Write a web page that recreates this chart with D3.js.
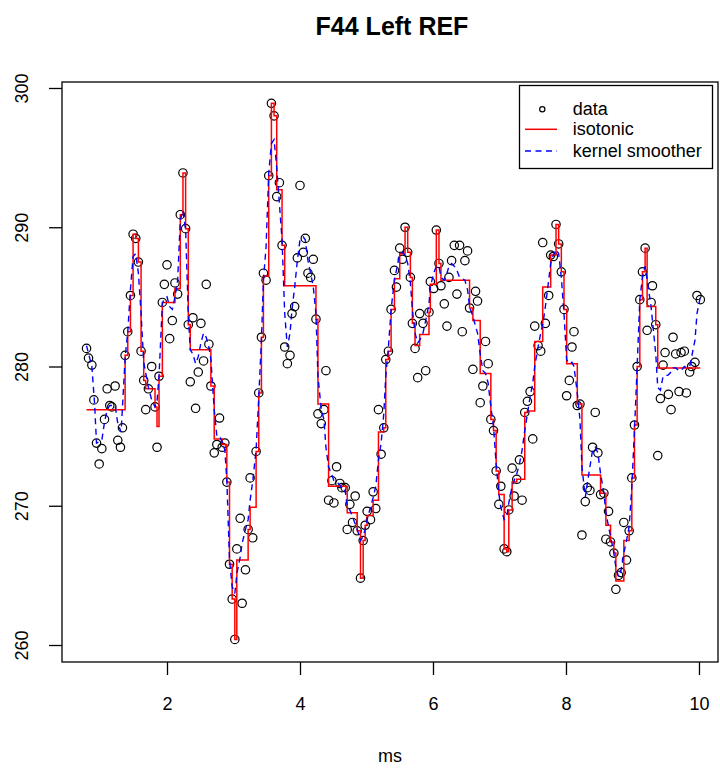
<!DOCTYPE html>
<html lang="en">
<head>
<meta charset="UTF-8">
<title>F44 Left REF</title>
<style>
  body { margin: 0; background: #fff; }
  svg { display: block; font-family: "Liberation Sans", Arial, Helvetica, sans-serif; }
</style>
</head>
<body>
<svg id="chart" width="720" height="768"></svg>
<script src="https://d3js.org/d3.v7.min.js"></script>
<script>
// sample times (ms)
var timeMs = [
  0.79, 0.82, 0.87, 0.90, 0.94, 0.98, 1.02, 1.06, 1.10, 1.14,
  1.17, 1.22, 1.26, 1.30, 1.33, 1.37, 1.41, 1.45, 1.49, 1.53,
  1.57, 1.61, 1.65, 1.68, 1.72, 1.77, 1.82, 1.85, 1.88, 1.93,
  1.96, 2.00, 2.04, 2.08, 2.12, 2.16, 2.20, 2.24, 2.28, 2.32,
  2.35, 2.39, 2.43, 2.47, 2.51, 2.55, 2.59, 2.63, 2.66, 2.71,
  2.75, 2.79, 2.83, 2.87, 2.90, 2.94, 2.98, 3.02, 3.05, 3.10,
  3.13, 3.18, 3.22, 3.25, 3.29, 3.34, 3.38, 3.42, 3.45, 3.49,
  3.53, 3.57, 3.61, 3.65, 3.69, 3.73, 3.77, 3.81, 3.85, 3.88,
  3.92, 3.96, 4.00, 4.05, 4.08, 4.12, 4.16, 4.20, 4.24, 4.27,
  4.32, 4.36, 4.39, 4.43, 4.48, 4.51, 4.55, 4.60, 4.63, 4.68,
  4.71, 4.75, 4.79, 4.83, 4.86, 4.91, 4.95, 4.98, 5.01, 5.06,
  5.10, 5.14, 5.18, 5.22, 5.26, 5.29, 5.33, 5.37, 5.42, 5.45,
  5.50, 5.54, 5.58, 5.62, 5.66, 5.69, 5.73, 5.77, 5.80, 5.85,
  5.89, 5.94, 5.96, 6.01, 6.05, 6.09, 6.12, 6.17, 6.21, 6.24,
  6.28, 6.32, 6.36, 6.40, 6.44, 6.48, 6.52, 6.55, 6.60, 6.64,
  6.67, 6.71, 6.75, 6.79, 6.83, 6.87, 6.91, 6.95, 6.99, 7.02,
  7.07, 7.11, 7.14, 7.19, 7.22, 7.26, 7.30, 7.34, 7.38, 7.42,
  7.46, 7.50, 7.53, 7.58, 7.62, 7.65, 7.69, 7.74, 7.77, 7.81,
  7.85, 7.89, 7.93, 7.97, 8.01, 8.05, 8.09, 8.12, 8.17, 8.21,
  8.24, 8.29, 8.32, 8.36, 8.40, 8.44, 8.48, 8.52, 8.57, 8.60,
  8.64, 8.67, 8.72, 8.75, 8.79, 8.83, 8.87, 8.91, 8.95, 8.99,
  9.03, 9.07, 9.11, 9.15, 9.19, 9.22, 9.28, 9.30, 9.35, 9.38,
  9.42, 9.46, 9.49, 9.54, 9.58, 9.61, 9.65, 9.70, 9.73, 9.78,
  9.81, 9.86, 9.89, 9.94, 9.97, 10.02
];

// observed values
var values = [
  281.3, 280.6, 280.1, 277.6, 274.5, 273.0, 274.1, 276.2, 278.4, 277.2,
  277.1, 278.6, 274.7, 274.2, 275.6, 280.8, 282.5, 285.1, 289.5, 289.2,
  287.5, 281.1, 279.0, 276.9, 278.4, 280.0, 277.1, 274.2, 279.3, 284.6,
  285.9, 287.3, 282.0, 283.3, 286.0, 285.2, 290.9, 293.9, 289.9, 283.0,
  278.9, 283.5, 277.0, 279.6, 283.1, 280.4, 285.9, 281.6, 278.6, 273.8,
  274.4, 276.3, 274.2, 274.5, 271.7, 265.8, 263.3, 260.4, 266.9, 269.1,
  263.0, 265.4, 268.3, 272.0, 267.7, 273.9, 278.1, 282.1, 286.7, 286.2,
  293.7, 298.9, 298.0, 292.2, 293.2, 288.7, 281.4, 280.2, 280.8, 283.8,
  284.3, 287.8, 293.0, 288.2, 289.2, 286.7, 286.4, 287.7, 283.4, 276.6,
  275.9, 276.9, 279.7, 270.4, 271.8, 270.2, 272.8, 271.6, 271.3, 271.3,
  268.3, 270.1, 268.8, 270.7, 268.2, 264.8, 267.5, 268.6, 269.6, 269.0,
  271.0, 269.8, 276.9, 273.7, 275.6, 280.5, 281.1, 284.1, 286.9, 285.7,
  288.5, 287.7, 290.0, 288.2, 286.4, 283.1, 281.3, 279.2, 283.8, 283.1,
  279.7, 283.9, 286.1, 285.6, 289.8, 287.4, 285.8, 284.5, 282.9, 286.4,
  287.6, 288.7, 285.2, 288.7, 282.5, 287.6, 288.3, 284.2, 279.8, 285.4,
  284.7, 277.4, 278.6, 281.8, 280.2, 276.2, 275.4, 272.5, 270.1, 271.4,
  266.9, 266.7, 269.7, 272.7, 270.7, 271.9, 273.3, 270.4, 276.7, 277.5,
  278.2, 274.8, 282.9, 281.5, 281.1, 288.9, 283.1, 285.1, 288.0, 287.9,
  290.2, 288.8, 286.8, 284.1, 277.9, 279.0, 281.4, 282.5, 277.2, 277.3,
  267.9, 270.3, 271.3, 271.1, 274.2, 276.7, 273.8, 270.8, 270.9, 267.6,
  269.6, 267.4, 266.6, 264.0, 265.0, 265.2, 268.8, 266.1, 268.2, 272.0,
  275.8, 280.0, 284.8, 286.8, 288.5, 282.6, 284.6, 285.8, 283.0, 273.6,
  277.7, 280.1, 281.0, 278.0, 276.9, 282.1, 280.9, 278.2, 281.0, 281.1,
  278.1, 279.6, 280.0, 280.3, 285.1, 284.8
];

// isotonic fit, one value per sample
var isoFit = [
  276.9, 276.9, 276.9, 276.9, 276.9, 276.9, 276.9, 276.9, 276.9, 276.9,
  276.9, 276.9, 276.9, 276.9, 276.9, 280.8, 282.5, 285.1, 289.5, 289.2,
  287.5, 281.1, 279.0, 278.4, 278.4, 278.4, 277.1, 275.7, 279.3, 284.6,
  284.6, 284.6, 284.6, 284.6, 285.6, 285.6, 290.9, 293.9, 289.9, 283.0,
  281.2, 281.2, 281.2, 281.2, 281.2, 281.2, 281.2, 281.2, 278.6, 274.8,
  274.8, 274.8, 274.4, 274.4, 271.7, 265.8, 263.3, 260.4, 266.1, 266.1,
  266.1, 266.1, 268.3, 269.9, 269.9, 273.9, 278.1, 282.1, 286.5, 286.5,
  293.7, 298.9, 298.0, 292.7, 292.7, 288.7, 285.8, 285.8, 285.8, 285.8,
  285.8, 285.8, 285.8, 285.8, 285.8, 285.8, 285.8, 285.8, 283.4, 277.3,
  277.3, 277.3, 277.3, 271.4, 271.4, 271.4, 271.4, 271.4, 271.4, 271.4,
  269.5, 269.5, 269.5, 269.5, 268.2, 264.8, 267.5, 268.6, 269.3, 269.3,
  270.4, 270.4, 275.3, 275.3, 275.6, 280.5, 281.1, 284.1, 286.3, 286.3,
  288.1, 288.1, 290.0, 288.2, 286.4, 283.1, 281.5, 281.5, 282.3, 282.3,
  282.3, 283.9, 285.9, 285.9, 289.8, 287.4, 286.2, 286.2, 286.2, 286.2,
  286.2, 286.2, 286.2, 286.2, 286.2, 286.2, 286.2, 284.2, 283.3, 283.3,
  283.3, 279.5, 279.5, 279.5, 279.5, 276.2, 275.4, 272.5, 270.8, 270.8,
  266.9, 266.7, 269.7, 271.7, 271.7, 271.9, 271.9, 271.9, 276.7, 276.8,
  276.8, 276.8, 281.8, 281.8, 281.8, 285.7, 285.7, 285.7, 288.0, 288.0,
  290.2, 288.8, 286.8, 284.1, 280.2, 280.2, 280.2, 280.2, 277.3, 277.3,
  272.2, 272.2, 272.2, 272.2, 272.2, 272.2, 272.2, 270.9, 270.9, 268.6,
  268.6, 267.4, 266.6, 264.6, 264.6, 264.6, 267.5, 267.5, 268.2, 272.0,
  275.8, 280.0, 284.8, 286.8, 288.5, 284.3, 284.3, 284.3, 283.0, 279.9,
  279.9, 279.9, 279.9, 279.9, 279.9, 279.9, 279.9, 279.9, 279.9, 279.9,
  279.9, 279.9, 279.9, 279.9, 279.9, 279.9
];

// kernel smoother curve
var smoothX = [
  0.79, 0.87, 0.91, 0.94, 1.02, 1.06, 1.10, 1.14, 1.22, 1.26,
  1.31, 1.37, 1.41, 1.45, 1.49, 1.53, 1.57, 1.61, 1.65, 1.72,
  1.77, 1.82, 1.85, 1.88, 1.93, 1.96, 2.00, 2.04, 2.08, 2.12,
  2.16, 2.20, 2.24, 2.28, 2.32, 2.35, 2.39, 2.43, 2.47, 2.51,
  2.55, 2.59, 2.63, 2.66, 2.71, 2.75, 2.79, 2.83, 2.87, 2.90,
  2.94, 2.98, 3.02, 3.05, 3.10, 3.13, 3.18, 3.22, 3.25, 3.29,
  3.34, 3.38, 3.42, 3.45, 3.49, 3.53, 3.57, 3.61, 3.65, 3.69,
  3.73, 3.77, 3.81, 3.85, 3.88, 3.92, 3.96, 4.00, 4.05, 4.08,
  4.12, 4.16, 4.20, 4.24, 4.27, 4.32, 4.36, 4.39, 4.43, 4.48,
  4.51, 4.55, 4.60, 4.63, 4.68, 4.71, 4.75, 4.79, 4.83, 4.86,
  4.91, 4.95, 4.98, 5.01, 5.06, 5.10, 5.14, 5.18, 5.22, 5.26,
  5.29, 5.33, 5.37, 5.42, 5.45, 5.50, 5.54, 5.58, 5.62, 5.66,
  5.69, 5.73, 5.77, 5.80, 5.85, 5.89, 5.94, 5.96, 6.01, 6.05,
  6.09, 6.12, 6.17, 6.21, 6.24, 6.28, 6.32, 6.36, 6.40, 6.44,
  6.48, 6.52, 6.55, 6.60, 6.64, 6.67, 6.71, 6.75, 6.79, 6.83,
  6.87, 6.91, 6.95, 6.99, 7.02, 7.07, 7.11, 7.14, 7.19, 7.22,
  7.26, 7.30, 7.34, 7.38, 7.42, 7.46, 7.50, 7.53, 7.58, 7.62,
  7.66, 7.69, 7.74, 7.77, 7.81, 7.85, 7.89, 7.93, 7.97, 8.01,
  8.05, 8.09, 8.12, 8.17, 8.21, 8.24, 8.29, 8.32, 8.36, 8.40,
  8.44, 8.48, 8.52, 8.57, 8.60, 8.64, 8.67, 8.72, 8.75, 8.79,
  8.83, 8.87, 8.91, 8.95, 8.99, 9.03, 9.07, 9.11, 9.15, 9.19,
  9.22, 9.28, 9.30, 9.35, 9.38, 9.42, 9.46, 9.49, 9.54, 9.58,
  9.61, 9.65, 9.70, 9.73, 9.78, 9.81, 9.86, 9.89, 9.94, 9.97,
  10.02
];
var smoothY = [
  281.5, 280.0, 277.4, 274.5, 274.7, 276.0, 276.9, 277.2, 277.2, 275.9,
  275.3, 280.6, 282.5, 285.5, 287.9, 288.1, 286.7, 283.8, 280.3, 278.5,
  277.6, 277.1, 277.5, 279.3, 284.5, 284.9, 285.0, 284.3, 284.1, 285.0,
  286.2, 290.5, 291.2, 289.8, 283.8, 281.2, 280.9, 280.2, 280.7, 281.7,
  282.4, 282.1, 281.4, 280.5, 276.9, 275.0, 275.0, 274.6, 274.0, 271.8,
  266.1, 264.2, 263.7, 265.1, 266.3, 267.3, 268.3, 269.0, 270.4, 271.8,
  274.0, 277.8, 281.9, 286.2, 288.6, 293.9, 296.0, 296.3, 294.3, 291.7,
  289.1, 283.8, 281.4, 282.4, 284.1, 285.7, 287.6, 289.1, 289.3, 289.1,
  287.6, 286.7, 285.7, 283.8, 279.3, 276.9, 276.2, 274.2, 272.8, 272.2,
  271.8, 271.7, 271.5, 271.1, 271.1, 269.9, 269.7, 269.2, 268.7, 268.3,
  267.5, 267.8, 268.3, 269.0, 269.9, 270.6, 271.4, 273.3, 274.5, 276.6,
  279.3, 281.4, 284.1, 286.2, 286.9, 288.1, 288.2, 288.0, 287.4, 286.0,
  284.1, 282.4, 281.7, 281.9, 282.4, 283.3, 284.5, 285.7, 286.7, 287.2,
  287.2, 286.4, 286.2, 286.7, 287.2, 287.4, 287.2, 286.9, 286.4, 286.3,
  286.2, 285.5, 284.3, 283.6, 282.9, 282.4, 280.9, 279.7, 279.5, 278.8,
  277.1, 275.7, 273.0, 270.9, 269.9, 269.0, 269.2, 270.2, 271.4, 271.8,
  272.3, 273.0, 274.0, 275.4, 276.6, 277.8, 278.8, 280.0, 281.4, 282.4,
  283.3, 284.3, 286.2, 287.4, 288.0, 288.4, 288.1, 286.4, 283.8, 280.5,
  280.2, 280.3, 280.0, 278.1, 276.2, 272.8, 270.6, 271.6, 272.8, 274.0,
  274.2, 273.8, 272.3, 270.9, 269.5, 268.5, 267.8, 266.6, 265.6, 264.9,
  265.4, 266.6, 267.5, 268.5, 271.4, 275.4, 280.0, 284.8, 286.4, 287.2,
  286.2, 284.3, 283.3, 280.9, 278.5, 278.3, 279.3, 279.3, 279.4, 279.6,
  279.9, 279.9, 279.7, 279.7, 280.0, 279.9, 280.0, 280.7, 281.9, 283.8,
  285.0
];

var xTicks = [2, 4, 6, 8, 10];
var yTicks = [260, 270, 280, 290, 300];
var legendLabels = ["data", "isotonic", "kernel smoother"];

var svg = d3.select("#chart");
var box = { left: 62, right: 718, top: 82, bottom: 662 };

svg.append("rect").attr("width", 720).attr("height", 768).attr("fill", "#fff");

var x = d3.scaleLinear().domain([0.421, 10.286]).range([box.left, box.right]);
var y = d3.scaleLinear().domain([258.78, 300.43]).range([box.bottom, box.top]);

// title
svg.append("text")
    .attr("x", 392).attr("y", 35)
    .attr("text-anchor", "middle")
    .attr("font-size", 25).attr("font-weight", "bold")
    .text("F44 Left REF");

// x axis
var gx = svg.append("g")
    .attr("transform", "translate(0," + box.bottom + ")")
    .call(d3.axisBottom(x).tickValues(xTicks).tickSize(13).tickPadding(22).tickFormat(d3.format("d")));
gx.select(".domain").remove();
gx.attr("font-family", null).attr("font-size", 18);
gx.selectAll(".tick line").attr("stroke-width", 1.3);

// y axis, labels parallel to the axis
var gy = svg.append("g")
    .attr("transform", "translate(" + box.left + ",0)")
    .call(d3.axisLeft(y).tickValues(yTicks).tickSize(13));
gy.select(".domain").remove();
gy.attr("font-family", null).attr("font-size", 18);
gy.selectAll(".tick line").attr("stroke-width", 1.3);
gy.selectAll(".tick text")
    .attr("transform", "rotate(-90)")
    .attr("x", 0).attr("y", -33.7).attr("dy", null)
    .attr("text-anchor", "middle");

// axis title
svg.append("text")
    .attr("x", 390).attr("y", 762)
    .attr("text-anchor", "middle")
    .attr("font-size", 18)
    .text("ms");

// plot frame
svg.append("rect")
    .attr("x", box.left).attr("y", box.top)
    .attr("width", box.right - box.left).attr("height", box.bottom - box.top)
    .attr("fill", "none").attr("stroke", "#000").attr("stroke-width", 1.3);

// data points
svg.append("g").selectAll("circle")
    .data(timeMs)
    .enter().append("circle")
    .attr("cx", function(d) { return x(d); })
    .attr("cy", function(d, i) { return y(values[i]); })
    .attr("r", 4.2)
    .attr("fill", "none")
    .attr("stroke", "#000")
    .attr("stroke-width", 1.2);

// isotonic step line
var isoLine = d3.line()
    .x(function(d) { return x(d); })
    .y(function(d, i) { return y(isoFit[i]); })
    .curve(d3.curveStepAfter);
svg.append("path")
    .attr("d", isoLine(timeMs))
    .attr("fill", "none")
    .attr("stroke", "red")
    .attr("stroke-width", 1.5);

// kernel smoother
var smoothLine = d3.line()
    .x(function(d) { return x(d); })
    .y(function(d, i) { return y(smoothY[i]); });
svg.append("path")
    .attr("d", smoothLine(smoothX))
    .attr("fill", "none")
    .attr("stroke", "blue")
    .attr("stroke-width", 1.4)
    .attr("stroke-dasharray", "6,4.5");

// legend
var lg = svg.append("g");
lg.append("rect")
    .attr("x", 519.5).attr("y", 85.5)
    .attr("width", 193).attr("height", 83)
    .attr("fill", "#fff").attr("stroke", "#000").attr("stroke-width", 1.3);
var rowY = [109.3, 129.3, 151];
lg.append("circle")
    .attr("cx", 542.3).attr("cy", rowY[0]).attr("r", 2.6)
    .attr("fill", "none").attr("stroke", "#000").attr("stroke-width", 1.2);
lg.append("line")
    .attr("x1", 525).attr("x2", 557).attr("y1", rowY[1]).attr("y2", rowY[1])
    .attr("stroke", "red").attr("stroke-width", 1.5);
lg.append("line")
    .attr("x1", 525).attr("x2", 557).attr("y1", rowY[2]).attr("y2", rowY[2])
    .attr("stroke", "blue").attr("stroke-width", 1.4).attr("stroke-dasharray", "6,4.5");
lg.selectAll("text.lab")
    .data(legendLabels)
    .enter().append("text")
    .attr("class", "lab")
    .attr("x", 572.7)
    .attr("y", function(d, i) { return rowY[i] + 5.8; })
    .attr("font-size", 18)
    .text(function(d) { return d; });
</script>
</body>
</html>
